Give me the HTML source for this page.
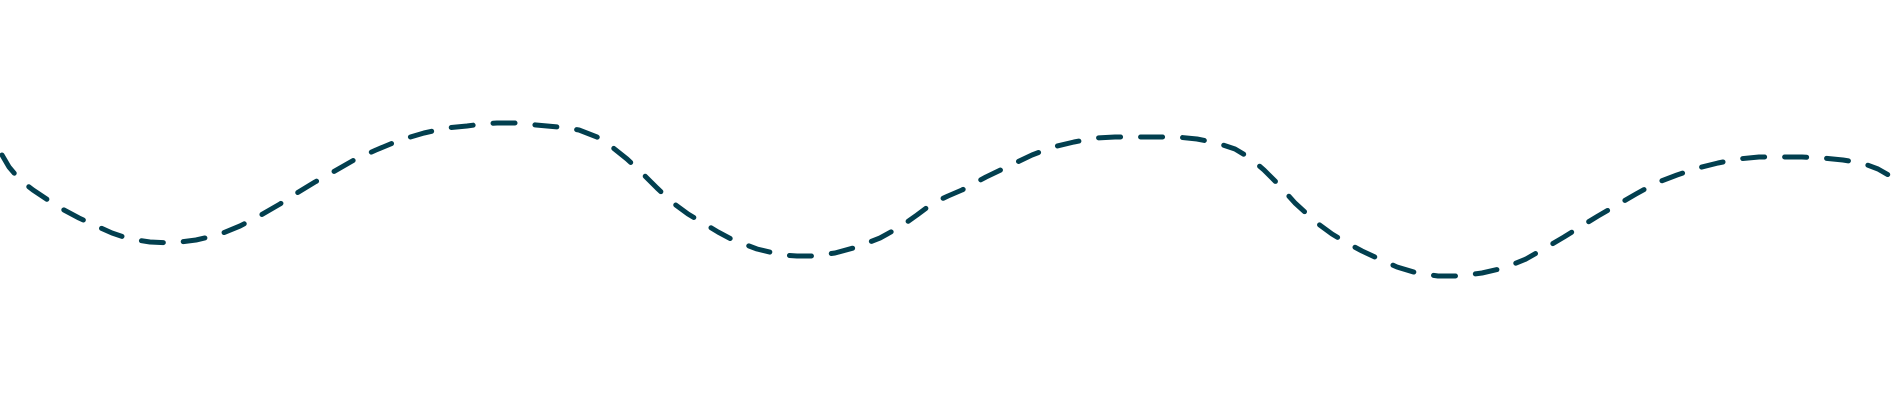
<!DOCTYPE html>
<html><head><meta charset="utf-8"><style>html,body{margin:0;padding:0;background:#fff;width:1900px;height:400px;overflow:hidden}</style></head>
<body><svg width="1900" height="400" viewBox="0 0 1900 400">
<polyline points="2,155 9,167 20,180 33,190 48,200 64,210 79,218 94,225 112,233 130,239 150,242 173,243 196,240 218,235 240,226 261,215 280,204 297,193 315,182 333,172 354,160 376,150 400,140 424,133 446,128 467,126 482,124 497,123 516,123 536,125 558,127 579,130 597,137 612,147 627,159 642,173 657,188 673,203 688,214 703,223 718,232 733,240 757,249 782,255 797,256 812,256 835,253 857,247 880,238 900,227 917,215 933,203 948,196 962,190 986,177 1011,165 1032,155 1053,147 1074,142 1095,138 1115,137 1135,137 1156,137 1177,137 1197,139 1217,143 1235,149 1250,158 1264,170 1277,183 1286,193 1295,203 1306,213 1317,223 1332,234 1347,243 1362,251 1377,258 1397,267 1417,273 1438,276 1459,276 1482,273 1504,268 1526,259 1547,247 1564,237 1580,227 1598,216 1617,205 1636,194 1656,183 1677,175 1698,168 1718,163 1738,159 1759,157 1780,157 1802,157 1823,158 1843,160 1862,163 1878,169 1892,177 1900,183" fill="none" stroke="#023f4f" stroke-width="5" stroke-linecap="round" stroke-linejoin="round" stroke-dasharray="22 20"/>
</svg></body></html>
